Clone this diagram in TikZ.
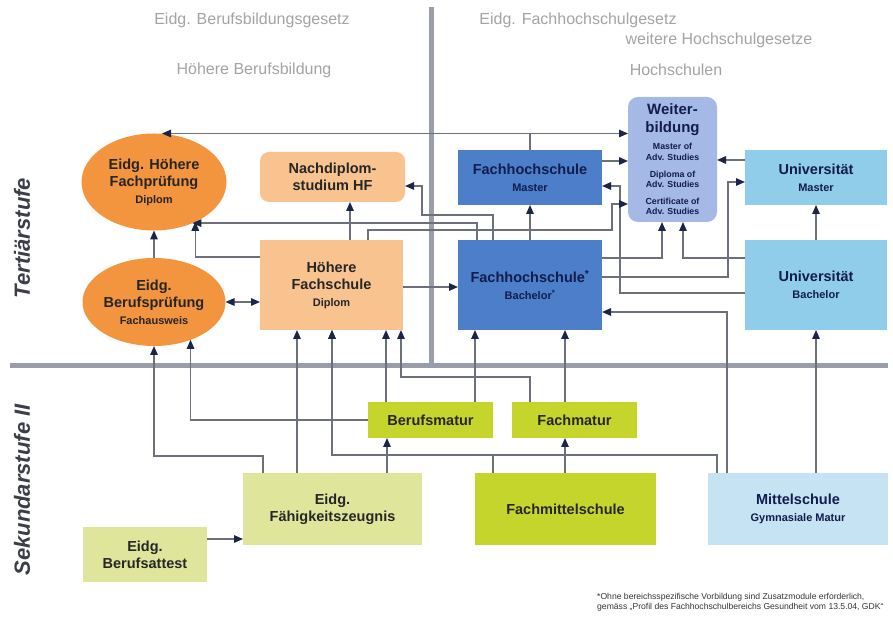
\documentclass[tikz,border=0pt]{standalone}
\usepackage{fontspec}
\setmainfont{Liberation Sans}
\usetikzlibrary{arrows.meta,shapes.geometric}

\definecolor{divgray}{HTML}{9A9EA8}
\definecolor{linegray}{HTML}{6B707A}
\definecolor{tipnavy}{HTML}{1C2448}
\definecolor{headgray}{HTML}{A3A3A3}
\definecolor{sidegray}{HTML}{3C3D4A}
\definecolor{orangeA}{HTML}{F3943F}
\definecolor{orangeB}{HTML}{F9C38F}
\definecolor{blueA}{HTML}{4C7EC9}
\definecolor{blueB}{HTML}{A5B9E6}
\definecolor{blueC}{HTML}{90CDEB}
\definecolor{blueD}{HTML}{C5E3F3}
\definecolor{greenA}{HTML}{C5D52B}
\definecolor{greenB}{HTML}{DFE69C}
\definecolor{navytext}{HTML}{121C4E}

\newcommand{\boxsmall}[1]{{\fontsize{11}{13}\selectfont #1}}
\newcommand{\boxbig}[1]{{\fontsize{15}{17}\selectfont #1}}

\tikzset{
	box/.style={rectangle, inner sep=0pt, outer sep=0pt, align=center, text=black!85,
		font=\fontsize{14.5}{17}\selectfont\bfseries},
	ell/.style={ellipse, inner sep=0pt, outer sep=0pt, fill=orangeA, align=center, text=black!85,
		font=\fontsize{14.5}{17}\selectfont\bfseries},
	head/.style={text=headgray, font=\fontsize{16}{18}\selectfont},
	side/.style={text=sidegray, rotate=90, font=\fontsize{22}{24}\selectfont\bfseries\itshape},
}

\begin{document}
\begin{tikzpicture}[x=1pt, y=1pt,
	>={Triangle[length=9pt,width=7.5pt,color=tipnavy]},
	conn/.style={draw=linegray, line width=1.4pt, ->}]
	\useasboundingbox (0,0) rectangle (893,620);

	\draw[divgray, line width=5pt] (431,613) -- (431,254);
	\draw[divgray, line width=5pt] (10,254) -- (888,254);

	\node[head] (GBB) at (252,600) {Eidg. Berufsbildungsgesetz};
	\node[head] (HBB) at (254,550) {Höhere Berufsbildung};
	\node[head] (GFH) at (578,600) {Eidg. Fachhochschulgesetz};
	\node[head] (GHS) at (719,580) {weitere Hochschulgesetze};
	\node[head] (HS) at (676,550) {Hochschulen};

	\node[side] (TS) at (22,382) {Tertiärstufe};
	\node[side] (SS) at (22,130) {Sekundarstufe II};

	\node[ell, minimum width=145pt, minimum height=97pt] (HFP) at (154,438)
		{Eidg. Höhere\\Fachprüfung\\\boxsmall{Diplom}};
	\node[ell, minimum width=143pt, minimum height=88pt] (BP) at (154,318)
		{Eidg.\\Berufsprüfung\\\boxsmall{Fachausweis}};
	\node[box, fill=orangeB, rounded corners=9pt, minimum width=145pt, minimum height=50pt] (NDS) at (332.5,443)
		{Nachdiplom-\\studium HF};
	\node[box, fill=orangeB, minimum width=143pt, minimum height=90pt] (HF) at (331.5,335)
		{Höhere\\Fachschule\\\boxsmall{Diplom}};

	\node[box, fill=blueA, text=navytext, minimum width=144pt, minimum height=55pt] (FHM) at (530,442.5)
		{Fachhochschule\\\boxsmall{Master}};
	\node[box, fill=blueA, text=navytext, minimum width=144pt, minimum height=90pt] (FHB) at (530,335)
		{Fachhochschule\textsuperscript{*}\\\boxsmall{Bachelor\textsuperscript{*}}};
	\node[box, fill=blueB, text=navytext, rounded corners=10pt, minimum width=89pt, minimum height=125pt,
		font=\fontsize{8.8}{10.2}\selectfont\bfseries] (WB) at (672.5,460.5)
		{\boxbig{Weiter-}\\[6pt]\boxbig{bildung}\\[7pt]
		Master of\\Adv. Studies\\[7pt]Diploma of\\Adv. Studies\\[7pt]Certificate of\\Adv. Studies};
	\node[box, fill=blueC, text=navytext, minimum width=142pt, minimum height=55pt] (UM) at (816,442.5)
		{Universität\\\boxsmall{Master}};
	\node[box, fill=blueC, text=navytext, minimum width=142pt, minimum height=90pt] (UB) at (816,335)
		{Universität\\\boxsmall{Bachelor}};

	\node[box, fill=greenA, minimum width=125pt, minimum height=36pt] (BM) at (430.5,200) {Berufsmatur};
	\node[box, fill=greenA, minimum width=125pt, minimum height=36pt] (FM) at (574.5,200) {Fachmatur};
	\node[box, fill=greenB, minimum width=179pt, minimum height=72pt] (EFZ) at (332.5,111)
		{Eidg.\\Fähigkeitszeugnis};
	\node[box, fill=greenB, minimum width=124pt, minimum height=55pt] (EBA) at (145,65.5)
		{Eidg.\\Berufsattest};
	\node[box, fill=greenA, minimum width=181pt, minimum height=72pt] (FMS) at (565.5,111)
		{Fachmittelschule};
	\node[box, fill=blueD, text=navytext, minimum width=180pt, minimum height=72pt] (MS) at (798,111)
		{Mittelschule\\\boxsmall{Gymnasiale Matur}};

	\node[anchor=west, align=left, inner sep=0pt, text=black!80, font=\fontsize{8.6}{9.6}\selectfont] (FN) at (597,17.5)
		{*Ohne bereichsspezifische Vorbildung sind Zusatzmodule erforderlich,\\
		gemäss „Profil des Fachhochschulbereichs Gesundheit vom 13.5.04, GDK“};

	\draw[conn] (FHM.north) |- ([xshift=8pt]HFP.north);
	\draw[conn] (FHM.north) |- ([yshift=26pt]WB.west);
	\draw[conn] ([yshift=16.5pt]FHM.east) -- ([yshift=-1.5pt]WB.west);
	\draw[conn] ([yshift=17.5pt]UM.west) -- ([yshift=-0.5pt]WB.east);
	\draw[conn] ([yshift=-8pt]UB.west) -| ([xshift=18pt,yshift=-8.5pt]FHM.east) -- ([yshift=-8.5pt]FHM.east);
	\draw[conn] ([xshift=36.5pt]HF.north) -- ++(0,10) -| ([xshift=-16pt,yshift=-44.5pt]WB.west) -- ([yshift=-44.5pt]WB.west);
	\draw[conn] ([xshift=-53pt]FHB.north) |- (HFP.-47);
	\draw[conn] ([yshift=28pt]HF.west) -| (HFP.-44);
	\draw[conn] ([xshift=18.5pt]HF.north) -- ([xshift=17.5pt]NDS.south);
	\draw[conn] (BP.north) -- (HFP.south);
	\draw[conn, <->] (BP.east) -- (HF.west |- BP.east);
	\draw[conn] ([yshift=-2pt]HF.east) -- ([yshift=-2pt]FHB.west);
	\draw[conn] (FHB.north) -- (FHM.south);
	\draw[conn] ([xshift=-37pt]FHB.north) -- ++(0,25) -| ([xshift=17pt,yshift=-9pt]NDS.east) -- ([yshift=-9pt]NDS.east);
	\draw[conn] ([yshift=27pt]FHB.east) -| ([xshift=-10.5pt]WB.south);
	\draw[conn] ([yshift=27pt]UB.west) -| ([xshift=10.5pt]WB.south);
	\draw[conn] ([yshift=8pt]FHB.east) -| ([xshift=-17pt,yshift=-4.5pt]UM.west) -- ([yshift=-4.5pt]UM.west);
	\draw[conn] (UB.north) -- (UM.south);
	\draw[conn] ([xshift=-71pt]MS.north) |- ([yshift=-27pt]FHB.east);
	\draw[conn] (UB.south |- MS.north) -- (UB.south);
	\draw[conn] ([xshift=44.5pt]BM.north) -- ([xshift=-55pt]FHB.south);
	\draw[conn] ([xshift=-9.5pt]FM.north) -- ([xshift=35pt]FHB.south);
	\draw[conn] ([xshift=-44.5pt]BM.north) -- ([xshift=54.5pt]HF.south);
	\draw[conn] ([xshift=-44.5pt]FM.north) -- ++(0,25) -| ([xshift=69.5pt]HF.south);
	\draw[conn] ([xshift=-35.5pt]EFZ.north) -- ([xshift=-34.5pt]HF.south);
	\draw[conn] ([xshift=54.5pt]EFZ.north) -- ([xshift=-43.5pt]BM.south);
	\draw[conn] ([xshift=-72.5pt]FMS.north) -- ++(0,18) -| ([xshift=0.5pt]HF.south);
	\draw[conn] ([xshift=-81pt]MS.north) -- ++(0,18) -| ([xshift=0.5pt]HF.south);
	\draw[conn] ([xshift=-0.5pt]FMS.north) -- ([xshift=-9.5pt]FM.south);
	\draw[conn] (BM.west) -| (BP.-46.5);
	\draw[conn] ([xshift=-69.5pt]EFZ.north) -- ++(0,17) -| (BP.south);
	\draw[conn] ([yshift=15.5pt]EBA.east) -- ([yshift=-30pt]EFZ.west);
\end{tikzpicture}
\end{document}
